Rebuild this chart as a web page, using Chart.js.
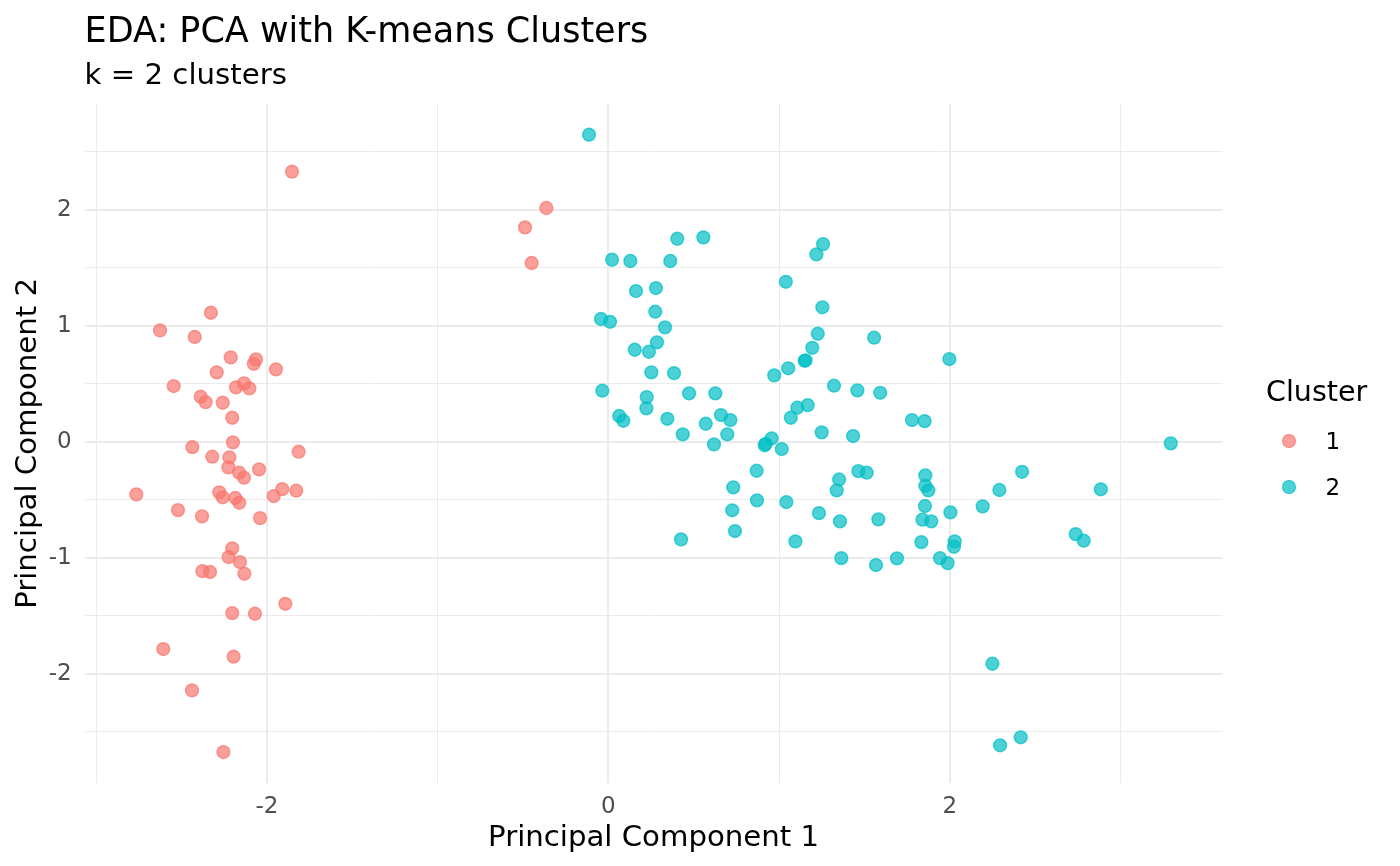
<!DOCTYPE html>
<html>
<head>
<meta charset="utf-8">
<script src="https://cdn.jsdelivr.net/npm/chart.js@4.4.1/dist/chart.umd.min.js"></script>
<style>
html, body { margin: 0; padding: 0; background: #ffffff; }
#wrap { position: relative; width: 1400px; height: 866px; overflow: hidden; }
#c { position: absolute; left: 0; top: 0; display: block; }
.lg { position: absolute; font-family: "DejaVu Sans"; line-height: 1; color: #000000; white-space: nowrap; }
.key { position: absolute; box-sizing: border-box; border-radius: 50%; }
</style>
</head>
<body>
<div id="wrap">
  <canvas id="c" width="1400" height="866" style="width:1400px;height:866px"></canvas>
  <div id="legend"></div>
</div>
<script>
// ---- texts ----
const titleText = 'EDA: PCA with K-means Clusters';
const subtitleText = 'k = 2 clusters';
const xTitle = 'Principal Component 1';
const yTitle = 'Principal Component 2';
const legendTitle = 'Cluster';
const clusterNames = ['1', '2'];

// ---- tick labels ----
const xMajorTicks = [-2, 0, 2];
const yMajorTicks = [-2, -1, 0, 1, 2];

// ---- cluster 1 ----
const cluster1X = [-1.853,-2.328,-2.626,-2.423,-2.212,-2.064,-2.077,-1.947,-2.294,-2.546,
  -2.134,-2.181,-2.103,-2.388,-2.359,-2.259,-2.203,-2.437,-2.199,-1.814,
  -2.320,-2.220,-2.226,-2.046,-2.163,-2.134,-2.765,-2.279,-2.259,-2.185,
  -2.162,-1.960,-1.910,-1.828,-2.521,-2.380,-2.040,-2.203,-2.224,-2.158,
  -2.378,-2.333,-2.132,-1.892,-2.203,-2.070,-2.607,-2.195,-2.439,-2.255,
  -0.363,-0.488,-0.449];
const cluster1Y = [2.328,1.112,0.960,0.903,0.727,0.710,0.672,0.624,0.598,0.480,
  0.503,0.469,0.460,0.388,0.342,0.336,0.207,-0.046,-0.005,-0.086,
  -0.129,-0.135,-0.221,-0.238,-0.267,-0.310,-0.454,-0.436,-0.479,-0.485,
  -0.526,-0.468,-0.408,-0.422,-0.589,-0.643,-0.658,-0.919,-0.994,-1.037,
  -1.115,-1.123,-1.138,-1.397,-1.477,-1.483,-1.787,-1.853,-2.143,-2.675,
  2.015,1.848,1.541];

// ---- cluster 2 ----
const cluster2X = [-0.113,0.404,0.557,0.022,0.129,0.363,0.162,0.279,0.275,-0.043,
  0.010,0.332,0.285,0.155,0.238,0.252,0.385,-0.035,0.225,0.223,
  0.064,0.088,0.346,0.436,0.473,0.627,0.571,0.660,0.715,0.697,
  0.619,0.972,1.054,1.150,1.156,1.195,1.322,1.107,1.168,1.069,
  1.250,0.922,0.916,0.957,1.016,0.869,0.732,0.871,1.043,0.726,
  0.742,0.426,1.234,1.096,1.258,1.219,1.040,1.254,1.227,1.557,
  1.998,1.459,1.593,1.779,1.853,1.434,1.465,1.514,1.352,1.338,
  1.857,1.857,1.875,2.424,2.291,2.193,2.004,1.855,1.840,1.892,
  1.357,1.582,1.834,2.029,2.025,1.365,1.568,1.691,1.943,1.988,
  2.738,2.785,3.295,2.885,2.250,2.295,2.416];
const cluster2Y = [2.647,1.750,1.762,1.569,1.558,1.558,1.299,1.325,1.121,1.058,
  1.034,0.986,0.857,0.793,0.776,0.598,0.592,0.440,0.385,0.288,
  0.222,0.181,0.198,0.064,0.417,0.417,0.155,0.230,0.187,0.064,
  -0.023,0.572,0.633,0.698,0.702,0.810,0.483,0.293,0.316,0.207,
  0.081,-0.018,-0.030,0.029,-0.063,-0.250,-0.393,-0.505,-0.520,-0.591,
  -0.770,-0.842,-0.615,-0.859,1.704,1.615,1.379,1.159,0.931,0.897,
  0.713,0.443,0.422,0.187,0.178,0.049,-0.253,-0.267,-0.325,-0.419,
  -0.290,-0.379,-0.419,-0.259,-0.416,-0.557,-0.609,-0.554,-0.672,-0.686,
  -0.686,-0.669,-0.865,-0.859,-0.905,-1.003,-1.063,-1.005,-1.003,-1.046,
  -0.796,-0.853,-0.014,-0.410,-1.914,-2.617,-2.548];

// ---- axis limits (ggplot 5% expansion) ----
const xMin = -3.068, xMax = 3.598;
const yMin = -2.941, yMax = 2.913;

const clusterColors = ['rgba(248,118,109,0.7)', 'rgba(0,191,196,0.7)'];

const toPoints = (xs, ys) => xs.map((x, i) => ({ x: x, y: ys[i] }));
const isIn = (v, arr) => arr.some(t => Math.abs(t - v) < 1e-9);

Chart.defaults.font.family = 'DejaVu Sans';

const pointStyle = (color) => ({
  backgroundColor: color,
  borderColor: color,
  borderWidth: 1.5,
  pointRadius: 6.4,
  pointHoverRadius: 6.4,
  pointStyle: 'circle'
});

new Chart(document.getElementById('c'), {
  type: 'scatter',
  data: {
    datasets: [
      Object.assign({ label: clusterNames[0], data: toPoints(cluster1X, cluster1Y) }, pointStyle(clusterColors[0])),
      Object.assign({ label: clusterNames[1], data: toPoints(cluster2X, cluster2Y) }, pointStyle(clusterColors[1]))
    ]
  },
  options: {
    responsive: false,
    animation: false,
    events: [],
    layout: { padding: { left: 0, top: 0, right: 177.5, bottom: 0 } },
    plugins: {
      legend: { display: false },
      tooltip: { enabled: false },
      title: {
        display: true, text: titleText, align: 'start', fullSize: false,
        color: '#000000', font: { size: 35, weight: 'normal' },
        padding: { top: 11.7, bottom: 0 }
      },
      subtitle: {
        display: true, text: subtitleText, align: 'start', fullSize: false,
        color: '#000000', font: { size: 29.2, weight: 'normal' },
        padding: { top: 5, bottom: 10.1 }
      }
    },
    scales: {
      x: {
        type: 'linear', min: xMin, max: xMax,
        border: { display: false },
        grid: {
          color: '#EBEBEB', drawTicks: false,
          lineWidth: (ctx) => (ctx.tick && isIn(ctx.tick.value, xMajorTicks)) ? 2 : 1
        },
        ticks: {
          stepSize: 1, includeBounds: false, autoSkip: false, maxRotation: 0,
          padding: 10.5, color: '#4D4D4D', font: { size: 23 },
          callback: (v) => isIn(v, xMajorTicks) ? String(Math.round(v)) : ''
        },
        title: {
          display: true, text: xTitle, color: '#000000',
          font: { size: 29.2 }, padding: { top: 0, bottom: 10 }
        },
        afterFit: (s) => { s.height = 83.1; }
      },
      y: {
        type: 'linear', min: yMin, max: yMax,
        border: { display: false },
        grid: {
          color: '#EBEBEB', drawTicks: false,
          lineWidth: (ctx) => (ctx.tick && isIn(ctx.tick.value, yMajorTicks)) ? 2 : 1
        },
        ticks: {
          stepSize: 0.5, includeBounds: false, autoSkip: false,
          padding: 13, color: '#4D4D4D', font: { size: 23 },
          callback: (v) => isIn(v, yMajorTicks) ? String(Math.round(v)) : ''
        },
        title: {
          display: true, text: yTitle, color: '#000000',
          font: { size: 29.2 }, padding: { top: 11, bottom: 0 }
        },
        afterFit: (s) => { s.width = 84.6; }
      }
    }
  }
});

// ---- legend (HTML, real text) ----
const lg = document.getElementById('legend');
const t = document.createElement('div');
t.className = 'lg';
t.style.left = '1266px';
t.style.top = '378px';
t.style.fontSize = '28.5px';
t.textContent = legendTitle;
lg.appendChild(t);
const keyY = [441.3, 487];
clusterNames.forEach((name, i) => {
  const k = document.createElement('div');
  k.className = 'key';
  const d = 14.3;
  k.style.width = d + 'px';
  k.style.height = d + 'px';
  k.style.left = (1289.3 - d / 2) + 'px';
  k.style.top = (keyY[i] - d / 2) + 'px';
  k.style.background = clusterColors[i];
  k.style.border = '0.75px solid ' + clusterColors[i];
  lg.appendChild(k);
  const l = document.createElement('div');
  l.className = 'lg';
  l.style.left = '1325.5px';
  l.style.top = (keyY[i] - 11.1) + 'px';
  l.style.fontSize = '23px';
  l.textContent = name;
  lg.appendChild(l);
});
</script>
</body>
</html>
